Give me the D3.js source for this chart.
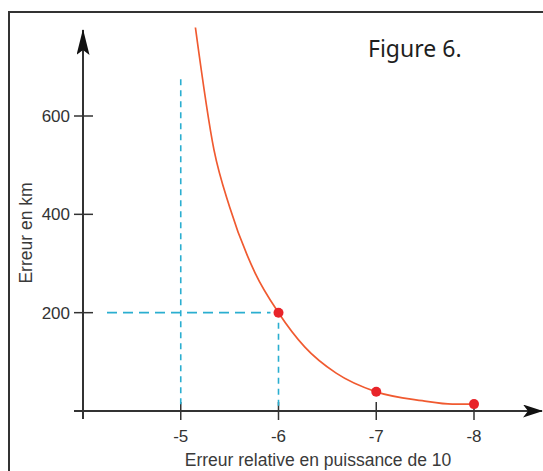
<!DOCTYPE html>
<html>
<head>
<meta charset="utf-8">
<script src="https://cdn.jsdelivr.net/npm/d3@7"></script>
<style>
    body { margin: 0; background: #fff; }
    svg { display: block; }
    .tick-label { font-family: "Liberation Sans", Arial, sans-serif; font-size: 17px; fill: #333; }
    .title { font-family: "Liberation Sans", Arial, sans-serif; font-size: 17.5px; fill: #3a3a3a; }
    .fig { font-family: "Noto Sans", "Open Sans", sans-serif; font-size: 23px; fill: #1e1e1e; }
</style>
</head>
<body>
<div class="chart"></div>
<script>

/////////////////////
// INITIAL DATA    //
/////////////////////

// x axis: relative error as a power of ten
var xTicks = [-5, -6, -7, -8];
var xTickLabels = ['-5', '-6', '-7', '-8'];

// y axis: error in km
var yTicks = [200, 400, 600];
var yTickLabels = ['200', '400', '600'];

// curve (power of ten, km)
var curveX = [-5.15, -5.34, -5.5, -5.76, -6, -6.27, -6.59, -7, -7.47, -7.78, -8];
var curveY = [780, 531, 415, 281, 200, 130, 77, 39, 21, 14, 14];

// highlighted points
var pointX = [-6, -7, -8];
var pointY = [200, 39, 14];

// dashed guides
var guideX = -5;       // vertical guide, runs up to guideTop
var guideTop = 675;
var guideY = 200;

var titleX = 'Erreur relative en puissance de 10',
    titleY = 'Erreur en km',
    figLabel = 'Figure 6.';

////////////////
// DIMENSIONS //
////////////////

var w = 543,
    h = 471;

var svg = d3.select('.chart')
    .append('svg')
    .attr('width', w)
    .attr('height', h);

// frame (runs off the right and bottom edge)
svg.append('path')
    .attr('d', 'M9,' + (h + 5) + 'V12H' + (w + 5))
    .attr('fill', 'none')
    .attr('stroke', '#333')
    .attr('stroke-width', 2);

////////////
// SCALES //
////////////

var xScale = d3.scaleLinear()
    .domain([-4, -8])
    .range([83, 474]);

var yScale = d3.scaleLinear()
    .domain([0, 600])
    .range([411, 116]);

var x0 = xScale(-4),
    y0 = yScale(0);

//////////
// AXES //
//////////

var axisColor = '#333';

svg.append('defs').selectAll('marker')
    .data([
        { id: 'arrowY', len: 26, wid: 13 },
        { id: 'arrowX', len: 20, wid: 13 }
    ])
    .enter()
    .append('marker')
    .attr('id', function(d) { return d.id; })
    .attr('viewBox', function(d) { return '0 0 ' + d.len + ' ' + d.wid; })
    .attr('refX', function(d) { return d.len - 1; })
    .attr('refY', function(d) { return d.wid / 2; })
    .attr('markerWidth', function(d) { return d.len; })
    .attr('markerHeight', function(d) { return d.wid; })
    .attr('markerUnits', 'userSpaceOnUse')
    .attr('orient', 'auto')
    .append('path')
    .attr('d', function(d) {
        return 'M0,0L' + d.len + ',' + d.wid / 2 + 'L0,' + d.wid + 'L5,' + d.wid / 2 + 'Z';
    })
    .attr('fill', '#111');

// y axis
svg.append('line')
    .attr('x1', x0).attr('y1', y0 + 8)
    .attr('x2', x0).attr('y2', 30)
    .attr('stroke', axisColor)
    .attr('stroke-width', 2)
    .attr('marker-end', 'url(#arrowY)');

// x axis
svg.append('line')
    .attr('x1', x0 - 9).attr('y1', y0)
    .attr('x2', 542).attr('y2', y0)
    .attr('stroke', axisColor)
    .attr('stroke-width', 2)
    .attr('marker-end', 'url(#arrowX)');

// y ticks
var yTick = svg.selectAll('.ytick')
    .data(yTicks)
    .enter()
    .append('g')
    .attr('class', 'ytick')
    .attr('transform', function(d) { return 'translate(0,' + yScale(d) + ')'; });

yTick.append('line')
    .attr('x1', x0 - 9).attr('x2', x0 + 10)
    .attr('stroke', axisColor)
    .attr('stroke-width', 1.5);

yTick.append('text')
    .attr('class', 'tick-label')
    .attr('x', x0 - 13)
    .attr('dy', '0.35em')
    .attr('text-anchor', 'end')
    .text(function(d, i) { return yTickLabels[i]; });

// x ticks
var xTick = svg.selectAll('.xtick')
    .data(xTicks)
    .enter()
    .append('g')
    .attr('class', 'xtick')
    .attr('transform', function(d) { return 'translate(' + xScale(d) + ',0)'; });

xTick.append('line')
    .attr('y1', y0 - 9).attr('y2', y0 + 9)
    .attr('stroke', axisColor)
    .attr('stroke-width', 1.5);

xTick.append('text')
    .attr('class', 'tick-label')
    .attr('y', 442)
    .attr('text-anchor', 'middle')
    .text(function(d, i) { return xTickLabels[i]; });

// titles
svg.append('text')
    .attr('class', 'title')
    .attr('x', 318)
    .attr('y', 466)
    .attr('text-anchor', 'middle')
    .text(titleX);

svg.append('text')
    .attr('class', 'title')
    .attr('transform', 'translate(32,233) rotate(-90)')
    .attr('text-anchor', 'middle')
    .text(titleY);

svg.append('text')
    .attr('class', 'fig')
    .attr('x', 368)
    .attr('y', 57)
    .text(figLabel);

///////////////////
// DASHED GUIDES //
///////////////////

var guideColor = '#2aaed0';

svg.append('line')
    .attr('x1', xScale(guideX)).attr('y1', yScale(guideTop))
    .attr('x2', xScale(guideX)).attr('y2', y0 - 2)
    .attr('stroke', guideColor)
    .attr('stroke-width', 1.6)
    .attr('stroke-dasharray', '6,5');

svg.append('line')
    .attr('x1', 107).attr('y1', yScale(guideY))
    .attr('x2', xScale(pointX[0]) - 8).attr('y2', yScale(guideY))
    .attr('stroke', guideColor)
    .attr('stroke-width', 1.8)
    .attr('stroke-dasharray', '10,6');

svg.append('line')
    .attr('x1', xScale(pointX[0])).attr('y1', yScale(guideY) + 10)
    .attr('x2', xScale(pointX[0])).attr('y2', y0 - 2)
    .attr('stroke', guideColor)
    .attr('stroke-width', 1.6)
    .attr('stroke-dasharray', '6,5');

///////////
// CURVE //
///////////

var line = d3.line()
    .x(function(d, i) { return xScale(curveX[i]); })
    .y(function(d) { return yScale(d); })
    .curve(d3.curveMonotoneX);

svg.append('path')
    .datum(curveY)
    .attr('d', line)
    .attr('fill', 'none')
    .attr('stroke', '#f05a30')
    .attr('stroke-width', 1.7);

svg.selectAll('.pt')
    .data(pointY)
    .enter()
    .append('circle')
    .attr('class', 'pt')
    .attr('cx', function(d, i) { return xScale(pointX[i]); })
    .attr('cy', function(d) { return yScale(d); })
    .attr('r', 5)
    .attr('fill', '#e8242a');

</script>
</body>
</html>
